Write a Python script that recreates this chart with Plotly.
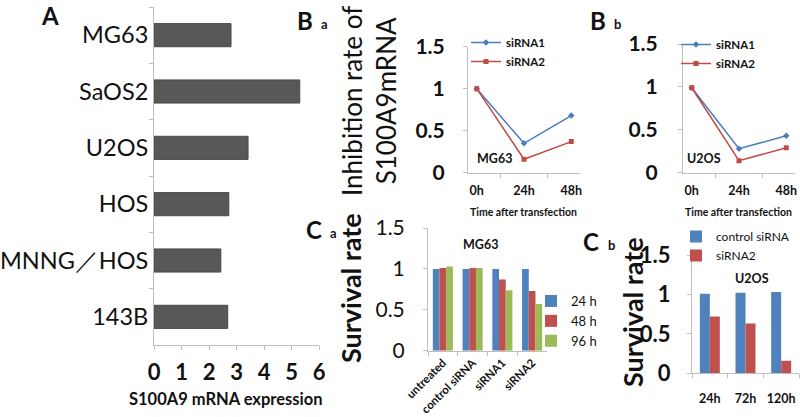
import plotly.graph_objects as go

W, H = 800, 417

# ---------------- data ----------------
a_cells = ["MG63", "SaOS2", "U2OS", "HOS", "MNNG／HOS", "143B"]
a_expr = [2.8, 5.3, 3.42, 2.72, 2.43, 2.68]

b_times = ["0h", "24h", "48h"]
ba_sirna1 = [1.0, 0.35, 0.68]
ba_sirna2 = [1.0, 0.16, 0.37]
bb_sirna1 = [0.99, 0.28, 0.43]
bb_sirna2 = [0.99, 0.14, 0.29]

ca_groups = ["untreated", "control siRNA", "siRNA1", "siRNA2"]
ca_24h = [1.0, 1.0, 1.0, 1.0]
ca_48h = [1.01, 1.01, 0.87, 0.73]
ca_96h = [1.03, 1.01, 0.74, 0.57]

cb_times = ["24h", "72h", "120h"]
cb_control = [1.01, 1.02, 1.03]
cb_sirna2 = [0.72, 0.63, 0.16]

y_ticks = [0, 0.5, 1, 1.5]
y_ticktext = ["0", "0.5", "1", "1.5"]
a_ticks = [0, 1, 2, 3, 4, 5, 6]

# ---------------- styling ----------------
FONT = "Lato, 'Open Sans', sans-serif"
BLUE_L, RED_L = "#4A7EBB", "#BE4B48"
BLUE, RED, GREEN = "#4F81BD", "#C0504D", "#9BBB59"
AX = "#BFBFBF"


def px_x(x0, x1):
    return [x0 / W, x1 / W]


def px_y(top, bottom):
    return [1 - bottom / H, 1 - top / H]


def px(x, y):
    return x / W, 1 - y / H


fig = go.Figure()

# Panel A
fig.add_trace(go.Bar(x=a_expr, y=a_cells, orientation="h", width=0.41,
                     marker=dict(color="#585858", line=dict(color="#484848", width=1)),
                     xaxis="x", yaxis="y", showlegend=False))

# Panel B a
fig.add_trace(go.Scatter(x=b_times, y=ba_sirna1, mode="lines+markers", name="siRNA1",
                         line=dict(color=BLUE_L, width=1.5),
                         marker=dict(symbol="diamond", size=5, color=BLUE_L),
                         xaxis="x2", yaxis="y2", legend="legend"))
fig.add_trace(go.Scatter(x=b_times, y=ba_sirna2, mode="lines+markers", name="siRNA2",
                         line=dict(color=RED_L, width=1.5),
                         marker=dict(symbol="square", size=5, color=RED_L),
                         xaxis="x2", yaxis="y2", legend="legend"))
# Panel B b
fig.add_trace(go.Scatter(x=b_times, y=bb_sirna1, mode="lines+markers", name="siRNA1",
                         line=dict(color=BLUE_L, width=1.5),
                         marker=dict(symbol="diamond", size=5, color=BLUE_L),
                         xaxis="x3", yaxis="y3", legend="legend2"))
fig.add_trace(go.Scatter(x=b_times, y=bb_sirna2, mode="lines+markers", name="siRNA2",
                         line=dict(color=RED_L, width=1.5),
                         marker=dict(symbol="square", size=5, color=RED_L),
                         xaxis="x3", yaxis="y3", legend="legend2"))

# Panel C a
ca_w = 0.225
for vals, nm, col, off in [(ca_24h, "24 h", BLUE, -1.5), (ca_48h, "48 h", RED, -0.5),
                           (ca_96h, "96 h", GREEN, 0.5)]:
    fig.add_trace(go.Bar(x=ca_groups, y=vals, name=nm, width=ca_w, offset=off * ca_w,
                         marker=dict(color=col, line=dict(width=0)),
                         xaxis="x4", yaxis="y4", legend="legend3"))

# Panel C b
cb_w = 0.28
for vals, nm, col, off in [(cb_control, "control siRNA", BLUE, -1.0),
                           (cb_sirna2, "siRNA2", RED, 0.0)]:
    fig.add_trace(go.Bar(x=cb_times, y=vals, name=nm, width=cb_w, offset=off * cb_w,
                         marker=dict(color=col, line=dict(width=0)),
                         xaxis="x5", yaxis="y5", legend="legend4"))

common_line = dict(showline=True, linecolor=AX, linewidth=1, ticks="outside",
                   tickcolor=AX, ticklen=4, showgrid=False, zeroline=False,
                   fixedrange=True, automargin=False)

layout = dict(
    template="none",
    width=W, height=H, margin=dict(l=0, r=0, t=0, b=0, autoexpand=False),
    paper_bgcolor="white", plot_bgcolor="white",
    barmode="overlay",
    font=dict(family=FONT, color="#111111"),
    # A
    xaxis=dict(domain=px_x(154, 319), anchor="y", range=[0, 6], tickvals=a_ticks,
               tickfont=dict(size=22, family=FONT, weight="bold"), ticklabelstandoff=4,
               **common_line),
    yaxis=dict(domain=px_y(7, 345), anchor="x", type="category", categoryorder="array",
               categoryarray=a_cells, autorange="reversed", tickson="boundaries",
               tickfont=dict(size=23.5, family=FONT), ticklabelstandoff=0,
               **common_line),
    # B a
    xaxis2=dict(domain=px_x(468, 580), anchor="y2", type="category", tickson="boundaries",
                tickangle=0,
                tickfont=dict(size=12.5, family=FONT, weight="bold"), ticklabelstandoff=6,
                **common_line),
    yaxis2=dict(domain=px_y(46.7, 172.7), anchor="x2", range=[0, 1.5], tickvals=y_ticks,
                ticktext=y_ticktext, tickfont=dict(size=21, family=FONT, weight="bold"),
                ticklabelstandoff=14, **common_line),
    # B b
    xaxis3=dict(domain=px_x(683, 795), anchor="y3", type="category", tickson="boundaries",
                tickangle=0,
                tickfont=dict(size=12.5, family=FONT, weight="bold"), ticklabelstandoff=6,
                **common_line),
    yaxis3=dict(domain=px_y(44, 172.7), anchor="x3", range=[0, 1.5], tickvals=y_ticks,
                ticktext=y_ticktext, tickfont=dict(size=21, family=FONT, weight="bold"),
                ticklabelstandoff=16, **common_line),
    # C a
    xaxis4=dict(domain=px_x(428, 547), anchor="y4", type="category", tickson="boundaries",
                tickangle=-45, tickfont=dict(size=11.5, family=FONT, weight="bold"),
                **common_line),
    yaxis4=dict(domain=px_y(228, 350.7), anchor="x4", range=[0, 1.5], tickvals=y_ticks,
                ticktext=y_ticktext, tickfont=dict(size=21, family=FONT),
                ticklabelstandoff=14, **common_line),
    # C b
    xaxis5=dict(domain=px_x(692, 799), anchor="y5", type="category", tickson="boundaries",
                tickangle=0,
                tickfont=dict(size=12.5, family=FONT, weight="bold"), ticklabelstandoff=14,
                **common_line),
    yaxis5=dict(domain=px_y(255, 373.3), anchor="x5", range=[0, 1.5], tickvals=y_ticks,
                ticktext=y_ticktext, tickfont=dict(size=22, family=FONT, weight="bold"),
                ticklabelstandoff=12, **common_line),
    legend=dict(x=px(466, 0)[0], y=px(0, 28)[1], xanchor="left", yanchor="top",
                bgcolor="rgba(0,0,0,0)", font=dict(size=11.5, family=FONT, weight="bold"),
                itemwidth=30, tracegroupgap=0),
    legend2=dict(x=px(676, 0)[0], y=px(0, 30)[1], xanchor="left", yanchor="top",
                 bgcolor="rgba(0,0,0,0)", font=dict(size=11.5, family=FONT, weight="bold"),
                 itemwidth=30, tracegroupgap=0),
    legend3=dict(x=px(531, 0)[0], y=px(0, 286)[1], xanchor="left", yanchor="top",
                 bgcolor="rgba(0,0,0,0)", font=dict(size=13, family=FONT),
                 itemwidth=30, tracegroupgap=0),
    legend4=dict(x=px(676, 0)[0], y=px(0, 222)[1], xanchor="left", yanchor="top",
                 bgcolor="rgba(0,0,0,0)", font=dict(size=12, family=FONT),
                 itemwidth=30, tracegroupgap=0),
)
fig.update_layout(**layout)

anns = []


def ann(text, x, y, size, bold=False, angle=0, xanchor="center", yanchor="middle", align="center"):
    xx, yy = px(x, y)
    anns.append(dict(text=text, x=xx, y=yy, xref="paper", yref="paper", showarrow=False,
                     textangle=angle, xanchor=xanchor, yanchor=yanchor, align=align,
                     font=dict(size=size, family=FONT, color="#111111",
                               weight="bold" if bold else "normal")))


# panel letters
ann("A", 50, 16, 24, bold=True)
ann("B", 305, 20, 24, bold=True)
ann("a", 324, 24, 13, bold=True)
ann("B", 598, 20, 24, bold=True)
ann("b", 617, 24, 13, bold=True)
ann("C", 314, 229, 24, bold=True)
ann("a", 333, 233, 13, bold=True)
ann("C", 591, 242, 24, bold=True)
ann("b", 611, 245, 13, bold=True)

# axis titles
ann("S100A9 mRNA expression", 226, 399, 16.5, bold=True)
ann("Inhibition rate of<br>S100A9mRNA", 369, 101, 26, angle=-90)
ann("Time after transfection", 523, 212, 10.5, bold=True)
ann("Time after transfection", 738, 212, 10.5, bold=True)
ann("Survival rate", 350, 288, 27, bold=True, angle=-90)
ann("Survival rate", 632, 312, 27, bold=True, angle=-90)

# in-plot labels
ann("MG63", 494, 158, 12.5, bold=True)
ann("U2OS", 704, 158, 12.5, bold=True)
ann("MG63", 480, 244, 12.5, bold=True)
ann("U2OS", 752, 278, 12.5, bold=True)

fig.update_layout(annotations=anns)
fig.write_html("out.html", config={"displayModeBar": False},
               post_script="document.body.style.margin='0px';"
                           "document.body.style.overflow='hidden';")
